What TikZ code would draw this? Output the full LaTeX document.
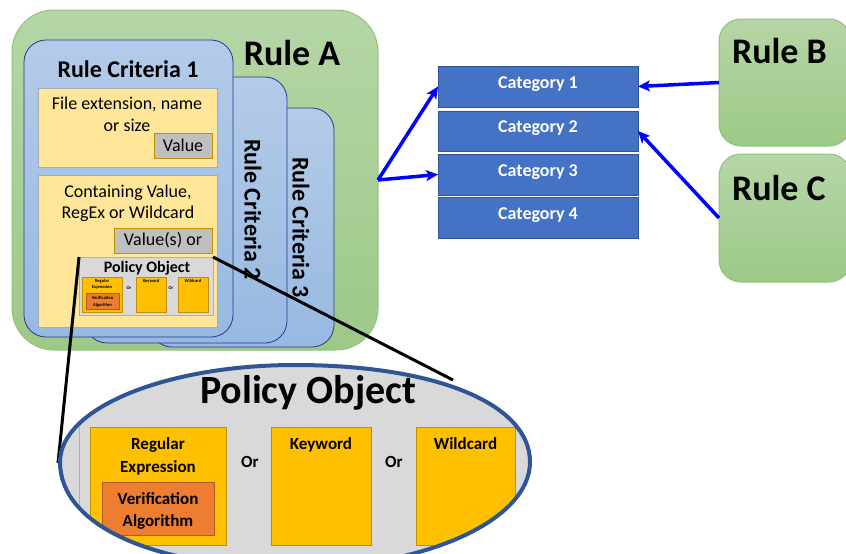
\documentclass[tikz,border=0pt]{standalone}
\usepackage{fontspec}
\setmainfont{Carlito}
\usetikzlibrary{shapes.geometric,arrows.meta}
\newcommand\fsz[1]{\fontsize{#1}{#1}\selectfont}
\definecolor{ruleG}{HTML}{B5D6A7}
\definecolor{ruleGb}{HTML}{9DC987}
\definecolor{ruleGedge}{HTML}{92C27A}
\definecolor{critT}{HTML}{B4CBE8}
\definecolor{critB}{HTML}{97B9E1}
\definecolor{critEdge}{HTML}{2B3590}
\definecolor{paleY}{HTML}{FFE699}
\definecolor{paleYedge}{HTML}{A3A9B5}
\definecolor{valG}{HTML}{BFBFBF}
\definecolor{goldEdge}{HTML}{BF9000}
\definecolor{panelG}{HTML}{D9D9D9}
\definecolor{panelEdge}{HTML}{B0B0B0}
\definecolor{ambr}{HTML}{FFC000}
\definecolor{orng}{HTML}{ED7D31}
\definecolor{orngEdge}{HTML}{AE5A21}
\definecolor{catB}{HTML}{4472C4}
\definecolor{catEdge}{HTML}{2F5597}
\definecolor{arrB}{HTML}{0000FF}
\tikzset{
  every node/.style={inner sep=0pt, outer sep=0pt},
  rulebox/.style={draw=ruleGedge, line width=1pt, top color=ruleG, bottom color=ruleGb, rectangle},
  critbox/.style={draw=critEdge, line width=0.8pt, top color=critT, bottom color=critB, rectangle, rounded corners=22pt},
  condbox/.style={draw=paleYedge, line width=1pt, fill=paleY, rectangle},
  valbox/.style={draw=goldEdge, line width=1pt, fill=valG, rectangle},
  panel/.style={draw=panelEdge, line width=0.6pt, fill=panelG, rectangle},
  optbox/.style={draw=goldEdge, line width=0.7pt, fill=ambr, rectangle},
  algbox/.style={draw=orngEdge, line width=0.8pt, fill=orng, rectangle},
  catbox/.style={draw=catEdge, line width=1pt, fill=catB, rectangle, minimum width=200pt},
  cattext/.style={anchor=base, text=white, font=\bfseries\fsz{18}},
  bluearrow/.style={draw=arrB, line width=3.5pt, -{Stealth[length=12pt,width=11pt,inset=3pt]}},
  zoomline/.style={draw=black, line width=3pt},
  txt/.style={anchor=base, font=\fsz{18}},
  btxt/.style={anchor=base, font=\bfseries\fsz{17}},
  tiny/.style={anchor=base, font=\bfseries\fsz{4.5}},
}
% outline of the enlarged policy object (a slightly full-shouldered oval)
\def\ovalpath{(60,462) .. controls (60,408.4) and (165.2,365) .. (295,365)
  .. controls (436,365) and (530,403.8) .. (530,462)
  .. controls (530,520.5) and (424.8,568) .. (295,568)
  .. controls (154,568) and (60,525.6) .. cycle}
\begin{document}
\begin{tikzpicture}[x=1pt,y=-1pt]
\useasboundingbox (0,0) rectangle (846,554);
\clip (0,0) rectangle (846,554);

% Rule A with its three stacked criteria cards
\node[rulebox, rounded corners=42pt, minimum width=366pt, minimum height=340pt] (ruleA) at (195,180) {};
\node[anchor=base, font=\bfseries\fsz{36}] (ruleAt) at (292,65) {Rule A};

\node[critbox, minimum width=184pt, minimum height=239pt] (crit3) at (242,227.5) {};
\node[rotate=-90, font=\bfseries\fsz{24}] (crit3t) at (301,227.5) {Rule Criteria 3};
\node[critbox, minimum width=202pt, minimum height=266pt] (crit2) at (186,210) {};
\node[rotate=-90, font=\bfseries\fsz{24}] (crit2t) at (253,209.5) {Rule Criteria 2};
\node[critbox, minimum width=209pt, minimum height=297pt] (crit1) at (128.5,188.5) {};
\node[anchor=base, font=\bfseries\fsz{24}] (crit1t) at (128,77) {Rule Criteria 1};

% first condition
\node[condbox, minimum width=179pt, minimum height=79pt] (cond1) at (127.5,127.5) {};
\node[txt] (cond1a) at (127,109) {File extension, name};
\node[txt] (cond1b) at (127,131) {or size};
\node[valbox, minimum width=58pt, minimum height=25pt] (val1) at (183,145.5) {};
\node[txt] (val1t) at (183,151) {Value};

% second condition
\node[condbox, minimum width=179pt, minimum height=152pt] (cond2) at (127.5,251) {};
\node[txt] (cond2a) at (128,197) {Containing Value,};
\node[txt] (cond2b) at (128,218) {RegEx or Wildcard};
\node[valbox, minimum width=98pt, minimum height=25pt] (val2) at (163,240.5) {};
\node[txt] (val2t) at (163,245) {Value(s) or};

% small policy object
\node[panel, minimum width=134pt, minimum height=58pt] (spo) at (146,286) {};
\node[anchor=base, font=\bfseries\fsz{16}] (spot) at (147,272) {Policy Object};
\node[optbox, minimum width=40pt, minimum height=35pt] (sre) at (102,294.5) {};
\node[optbox, minimum width=30pt, minimum height=35pt] (skw) at (151,294.5) {};
\node[optbox, minimum width=30pt, minimum height=35pt] (swc) at (193,294.5) {};
\node[algbox, minimum width=33pt, minimum height=16pt] (salg) at (102.5,301) {};
\node[tiny] at (102,282) {Regular};
\node[tiny] at (102,288) {Expression};
\node[tiny] at (151,282) {Keyword};
\node[tiny] at (193,282) {Wildcard};
\node[tiny] at (129,289) {Or};
\node[tiny] at (171,289) {Or};
\node[tiny] at (102.5,299) {Verification};
\node[tiny] at (102.5,306) {Algorithm};

% zoom lines towards the enlarged policy object
\coordinate (zoomR) at (453,380);
\coordinate (zoomL) at (58,463);
\draw[zoomline] (spo.north west) -- (zoomL);
\draw[zoomline] (spo.north east) -- (zoomR);

% enlarged policy object, its content cut to the oval
\fill[panelG] \ovalpath;
\begin{scope}
  \clip \ovalpath;
  \draw[draw=panelEdge, line width=0.8pt] (79,427) -- (79,600);
  \node[anchor=base, font=\bfseries\fsz{40}] (bigpot) at (308,403) {Policy Object};
  \node[optbox, line width=1pt, minimum width=136pt, minimum height=118pt] (re) at (158,486) {};
  \node[optbox, line width=1pt, minimum width=100pt, minimum height=118pt] (kw) at (321,486) {};
  \node[optbox, line width=1pt, minimum width=99pt, minimum height=118pt] (wc) at (465.5,486) {};
  \node[algbox, line width=1pt, minimum width=112pt, minimum height=53pt] (alg) at (158,508.5) {};
  \node[btxt] at (158,449) {Regular};
  \node[btxt] at (158,472) {Expression};
  \node[btxt] at (321,449) {Keyword};
  \node[btxt] at (465.5,449) {Wildcard};
  \node[btxt] (or1) at (250,467) {Or};
  \node[btxt] (or2) at (394,467) {Or};
  \node[btxt] at (158,504) {Verification};
  \node[btxt] at (158,526) {Algorithm};
\end{scope}
\draw[draw=catEdge, line width=4pt] \ovalpath;

% categories
\node[catbox, minimum height=41pt] (cat1) at (538,86.5) {};
\node[catbox, minimum height=40pt] (cat2) at (538,131) {};
\node[catbox, minimum height=41pt] (cat3) at (538,174.5) {};
\node[catbox, minimum height=41pt] (cat4) at (538,217.5) {};
\node[cattext] at (538,88) {Category 1};
\node[cattext] at (538,132) {Category 2};
\node[cattext] at (538,176) {Category 3};
\node[cattext] at (538,219) {Category 4};

% rules B and C
\node[rulebox, rounded corners=22pt, minimum width=132pt, minimum height=127pt] (ruleB) at (785,82.5) {};
\node[anchor=base west, font=\bfseries\fsz{36}] (ruleBt) at (732,63) {Rule B};
\node[rulebox, rounded corners=22pt, minimum width=132pt, minimum height=128pt] (ruleC) at (785,218) {};
\node[anchor=base west, font=\bfseries\fsz{36}] (ruleCt) at (732,200) {Rule C};

% assignments
\draw[bluearrow] (ruleA.east) -- (cat1.west);
\draw[bluearrow] (ruleA.east) -- (cat3.west);
\draw[bluearrow] (ruleB.west) -- (cat1.east);
\draw[bluearrow] (ruleC.west) -- (cat2.east);
\end{tikzpicture}
\end{document}
